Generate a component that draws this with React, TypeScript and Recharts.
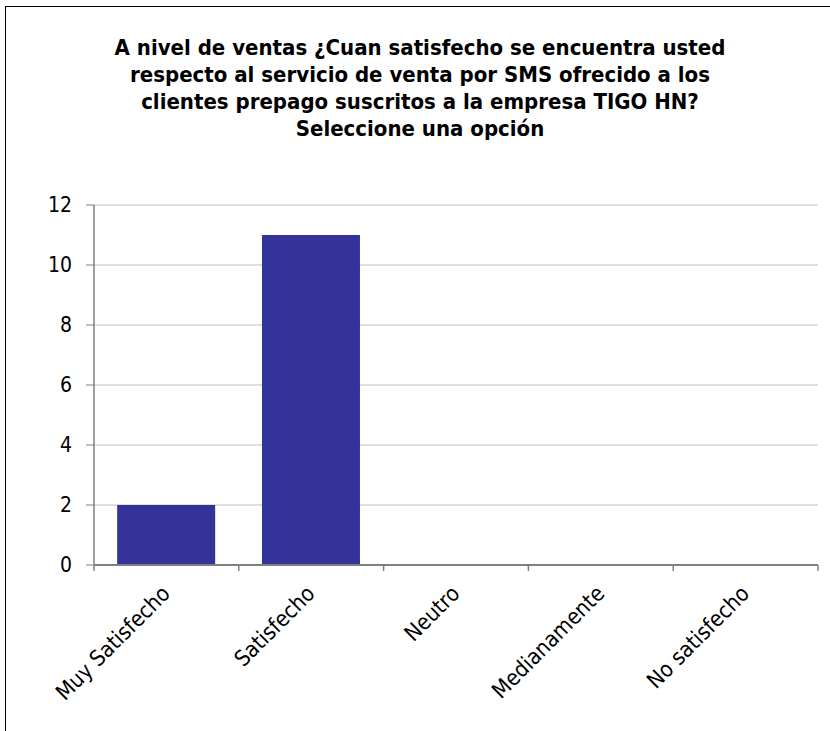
import { BarChart, Bar, XAxis, YAxis, CartesianGrid } from 'recharts'

const categories = ['Muy Satisfecho', 'Satisfecho', 'Neutro', 'Medianamente', 'No satisfecho']
const counts = [2, 11, 0, 0, 0]
const yTicks = [0, 2, 4, 6, 8, 10, 12]
const titleLines = [
  'A nivel de ventas ¿Cuan satisfecho se encuentra usted',
  'respecto al servicio de venta por SMS ofrecido a los',
  'clientes prepago suscritos a la empresa TIGO HN?',
  'Seleccione una opción',
]

const W = 830
const H = 731
const Y_AXIS_W = 94
const RIGHT = 12
const BAND = (W - Y_AXIS_W - RIGHT) / categories.length
const FONT = '"DejaVu Sans Condensed", "DejaVu Sans", Tahoma, sans-serif'

const data = categories.map((name, i) => ({ name, value: counts[i] }))

function XTick(props: any) {
  const { x, y, payload, index } = props
  const half = BAND / 2
  const tx = x + 5
  const ty = y + 30
  return (
    <g>
      <line x1={x - half} x2={x - half} y1={y} y2={y + 6} stroke="#808080" strokeWidth={1.5} />
      {index === categories.length - 1 && (
        <line x1={x + half} x2={x + half} y1={y} y2={y + 6} stroke="#808080" strokeWidth={1.5} />
      )}
      <text
        x={tx}
        y={ty}
        transform={`rotate(-45, ${tx}, ${ty})`}
        textAnchor="end"
        fill="#000"
        fontSize={22}
        fontFamily={FONT}
      >
        {payload.value}
      </text>
    </g>
  )
}

export default function App() {
  return (
    <div style={{ position: 'absolute', left: 0, top: 0, width: W, height: H, background: '#fff', overflow: 'hidden' }}>
      <div
        style={{
          position: 'absolute',
          left: 5,
          top: 6,
          right: 0,
          bottom: 0,
          borderLeft: '1px solid #000',
          borderTop: '1px solid #000',
        }}
      />
      <div
        style={{
          position: 'absolute',
          left: 10,
          top: 34,
          width: 820,
          textAlign: 'center',
          fontFamily: FONT,
          fontWeight: 'bold',
          fontSize: 22,
          lineHeight: '27px',
          color: '#000',
        }}
      >
        {titleLines.map((l) => (
          <div key={l} style={{ whiteSpace: 'nowrap' }}>{l}</div>
        ))}
      </div>
      <div style={{ position: 'absolute', left: 0, top: 0 }}>
        <BarChart
          width={W}
          height={H}
          data={data}
          margin={{ top: 205, right: RIGHT, left: 0, bottom: 0 }}
          barCategoryGap="16%"
        >
          <CartesianGrid vertical={false} stroke="#c0c0c0" />
          <XAxis
            dataKey="name"
            height={166}
            interval={0}
            tickLine={false}
            tickSize={0}
            tickMargin={0}
            axisLine={{ stroke: '#808080', strokeWidth: 2 }}
            tick={<XTick />}
          />
          <YAxis
            width={Y_AXIS_W}
            domain={[0, 12]}
            ticks={yTicks}
            interval={0}
            tickSize={8}
            tickMargin={14}
            tickLine={{ stroke: '#808080' }}
            axisLine={{ stroke: '#808080', strokeWidth: 1.5 }}
            tick={{ fill: '#000', fontSize: 21, fontFamily: FONT }}
          />
          <Bar dataKey="value" fill="#333399" isAnimationActive={false} />
        </BarChart>
      </div>
    </div>
  )
}
